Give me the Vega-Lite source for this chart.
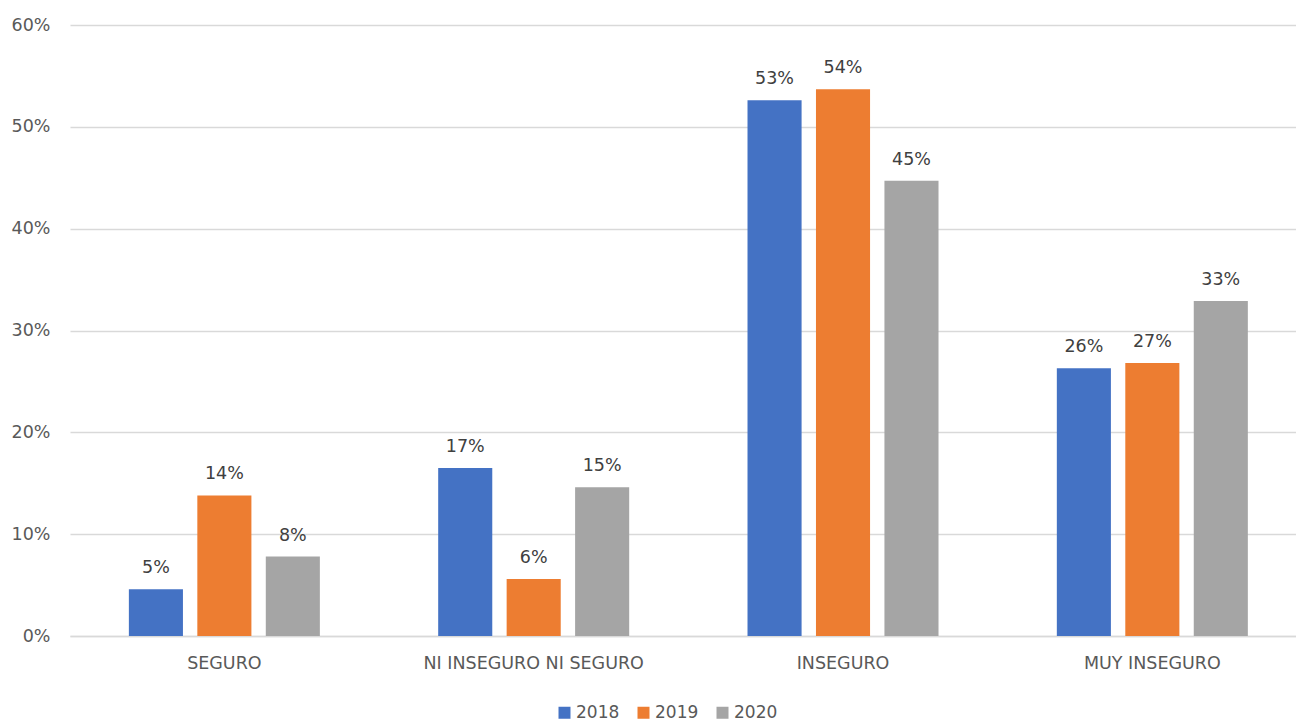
{
  "$schema": "https://vega.github.io/schema/vega-lite/v6.json",
  "width": 1226,
  "height": 611,
  "autosize": {"type": "none"},
  "padding": {"left": 70, "top": 25, "right": 0, "bottom": 85},
  "background": "white",
  "config": {
    "font": "DejaVu Sans",
    "view": {"stroke": null}
  },
  "data": {
    "values": [
      {"cat": "SEGURO", "year": "2018", "v": 0.046},
      {"cat": "SEGURO", "year": "2019", "v": 0.138},
      {"cat": "SEGURO", "year": "2020", "v": 0.078},
      {"cat": "NI INSEGURO NI SEGURO", "year": "2018", "v": 0.165},
      {"cat": "NI INSEGURO NI SEGURO", "year": "2019", "v": 0.056},
      {"cat": "NI INSEGURO NI SEGURO", "year": "2020", "v": 0.146},
      {"cat": "INSEGURO", "year": "2018", "v": 0.526},
      {"cat": "INSEGURO", "year": "2019", "v": 0.537},
      {"cat": "INSEGURO", "year": "2020", "v": 0.447},
      {"cat": "MUY INSEGURO", "year": "2018", "v": 0.263},
      {"cat": "MUY INSEGURO", "year": "2019", "v": 0.268},
      {"cat": "MUY INSEGURO", "year": "2020", "v": 0.329}
    ]
  },
  "encoding": {
    "x": {
      "field": "cat",
      "type": "nominal",
      "sort": ["SEGURO", "NI INSEGURO NI SEGURO", "INSEGURO", "MUY INSEGURO"],
      "scale": {"paddingInner": 0.3825, "paddingOuter": 0.173, "align": 0.55},
      "axis": {
        "title": null,
        "labelAngle": 0,
        "labelFontSize": 17.5,
        "labelColor": "#595959",
        "labelPadding": 18,
        "labelLimit": 0,
        "ticks": false,
        "domainColor": "#d9d9d9",
        "domainWidth": 1.5,
        "grid": false
      }
    },
    "xOffset": {
      "field": "year",
      "type": "nominal",
      "scale": {"paddingInner": 0.21, "paddingOuter": 0}
    },
    "y": {
      "field": "v",
      "type": "quantitative",
      "stack": null,
      "scale": {"domain": [0, 0.6]},
      "axis": {
        "title": null,
        "format": ".0%",
        "values": [0, 0.1, 0.2, 0.3, 0.4, 0.5, 0.6],
        "labelFontSize": 17.5,
        "labelColor": "#595959",
        "labelPadding": 20,
        "labelOverlap": false,
        "ticks": false,
        "domain": false,
        "gridColor": "#d9d9d9",
        "gridWidth": 1.5
      }
    }
  },
  "layer": [
    {
      "mark": {"type": "bar"},
      "encoding": {
        "color": {
          "field": "year",
          "type": "nominal",
          "scale": {"domain": ["2018", "2019", "2020"], "range": ["#4472c4", "#ed7d31", "#a5a5a5"]},
          "legend": {
            "title": null,
            "orient": "none",
            "legendX": 486,
            "legendY": 679,
            "direction": "horizontal",
            "symbolType": "square",
            "symbolSize": 144,
            "labelFontSize": 17,
            "labelColor": "#595959",
            "labelOffset": 3,
            "columnPadding": 15,
            "symbolStrokeWidth": 0
          }
        }
      }
    },
    {
      "mark": {"type": "text", "baseline": "bottom", "dy": -12, "fontSize": 17.5, "color": "#404040"},
      "encoding": {
        "text": {"field": "v", "type": "quantitative", "format": ".0%"}
      }
    }
  ]
}
